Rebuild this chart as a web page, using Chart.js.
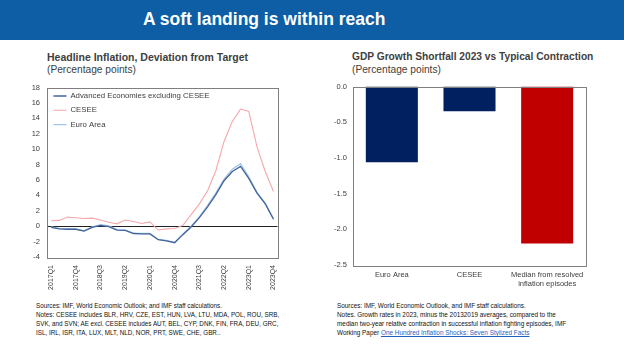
<!DOCTYPE html>
<html>
<head>
<meta charset="utf-8">
<script src="https://cdn.jsdelivr.net/npm/chart.js@4"></script>
<style>
  html, body { margin:0; padding:0; width:624px; height:351px; background:#fff; overflow:hidden; font-family:'Liberation Sans', Arial, sans-serif; }
  #banner { position:absolute; left:0; top:0; width:624px; height:40px; background:#0D5EA4; }
  #banner span { position:absolute; left:143px; top:9px; color:#fff; font-weight:bold; font-size:17.5px; white-space:nowrap; }
  .ttl { position:absolute; color:#404040; font-size:10.5px; font-weight:bold; white-space:nowrap; }
  .sub { position:absolute; color:#404040; font-size:10.2px; white-space:nowrap; }
  .note { position:absolute; color:#111; font-family:'Liberation Sans Narrow','Arial Narrow','Liberation Sans',Arial,sans-serif; line-height:9px; white-space:nowrap; }
  .note a { color:#1f5fbf; text-decoration:underline; }
  .box { position:absolute; }
</style>
</head>
<body>
<div id="banner"><span>A soft landing is within reach</span></div>

<div class="ttl" style="left:47px; top:51px;">Headline Inflation, Deviation from Target</div>
<div class="sub" style="left:47px; top:64px;">(Percentage points)</div>
<div class="ttl" style="left:352px; top:51.3px; font-size:10.2px;">GDP Growth Shortfall 2023 vs Typical Contraction</div>
<div class="sub" style="left:352px; top:64px;">(Percentage points)</div>

<div class="box" style="left:0px; top:76px; width:290px; height:222px;"><canvas id="c1"></canvas></div>
<div class="box" style="left:320px; top:76px; width:300px; height:222px;"><canvas id="c2"></canvas></div>

<div class="note" style="left:36px; top:301px; font-size:6.3px;">Sources: IMF, World Economic Outlook; and IMF staff calculations.<br>Notes: CESEE includes BLR, HRV, CZE, EST, HUN, LVA, LTU, MDA, POL, ROU, SRB,<br>SVK, and SVN; AE excl. CESEE includes AUT, BEL, CYP, DNK, FIN, FRA, DEU, GRC,<br>ISL, IRL, ISR, ITA, LUX, MLT, NLD, NOR, PRT, SWE, CHE, GBR..</div>
<div class="note" style="left:337px; top:301px; font-size:6.4px;">Sources: IMF, World Economic Outlook, and IMF staff calculations.<br>Notes. Growth rates in 2023, minus the 20132019 averages, compared to the<br>median two-year relative contraction in successful inflation fighting episodes, IMF<br>Working Paper <a>One Hundred Inflation Shocks: Seven Stylized Facts</a></div>

<script>
// ---- Data: left chart ----
const quarters = [
  '2017Q1','2017Q2','2017Q3','2017Q4','2018Q1','2018Q2','2018Q3','2018Q4',
  '2019Q1','2019Q2','2019Q3','2019Q4','2020Q1','2020Q2','2020Q3','2020Q4',
  '2021Q1','2021Q2','2021Q3','2021Q4','2022Q1','2022Q2','2022Q3','2022Q4',
  '2023Q1','2023Q2','2023Q3','2023Q4'
];
const advancedExCESEE = [-0.15,-0.35,-0.4,-0.4,-0.65,-0.15,0.1,-0.05,-0.5,-0.55,-0.95,-1.0,-1.0,-1.75,-1.9,-2.15,-1.1,-0.1,1.1,2.5,4.1,5.9,7.1,7.75,6.2,4.3,2.9,0.9];
const cesee = [0.7,0.75,1.2,1.1,1.0,1.05,0.8,0.5,0.3,0.8,0.6,0.35,0.55,-0.5,-0.35,-0.3,0.1,1.5,2.9,4.6,7.2,11.0,13.6,15.2,14.9,10.3,7.1,4.5];
const euroArea = [-0.1,-0.3,-0.35,-0.35,-0.6,-0.1,0.2,0.05,-0.45,-0.5,-0.9,-0.95,-0.95,-1.7,-1.85,-2.1,-1.0,0.0,1.2,2.7,4.3,6.1,7.4,8.1,6.4,4.4,3.0,1.0];
const seriesNames = ['Advanced Economies excluding CESEE','CESEE','Euro Area'];

// ---- Data: right chart ----
const gdpCategories = ['Euro Area','CESEE',['Median from resolved','inflation episodes']];
const gdpShortfall = [-1.06,-0.345,-2.2];

const FONT = "'Liberation Sans', Arial, sans-serif";
Chart.defaults.font.family = FONT;
Chart.defaults.color = '#404040';
Chart.defaults.animation = false;

const frame = {
  id: 'frame',
  afterDraw(chart) {
    const a = chart.chartArea, ctx = chart.ctx;
    ctx.save();
    ctx.strokeStyle = '#7f7f7f';
    ctx.lineWidth = 1;
    ctx.strokeRect(Math.round(a.left)+0.5, Math.round(a.top)+0.5, Math.round(a.right-a.left), Math.round(a.bottom-a.top));
    ctx.restore();
  }
};

new Chart(document.getElementById('c1'), {
  type: 'line',
  data: {
    labels: quarters,
    datasets: [
      { label: seriesNames[0], data: advancedExCESEE, borderColor: '#44659B', borderWidth: 1.3, pointRadius: 0, pointStyle: 'line', tension: 0 },
      { label: seriesNames[1], data: cesee, borderColor: '#F4A7AB', borderWidth: 1.1, pointRadius: 0, pointStyle: 'line', tension: 0 },
      { label: seriesNames[2], data: euroArea, borderColor: '#A3C4E6', borderWidth: 1.3, pointRadius: 0, pointStyle: 'line', tension: 0 }
    ]
  },
  options: {
    responsive: true, maintainAspectRatio: false,
    layout: { padding: { top: 8, right: 7, left: 0, bottom: 0 } },
    plugins: {
      legend: {
        position: 'chartArea', align: 'start',
        title: { display: true, text: ' ', padding: 0, font: { size: 8 } },
        labels: { usePointStyle: true, pointStyleWidth: 13, boxHeight: 7, font: { size: 7.8 }, color: '#404040', padding: 6.5 }
      },
      tooltip: { enabled: false }
    },
    scales: {
      x: {
        offset: true,
        grid: { display: false, drawTicks: false },
        border: { display: false },
        afterFit(s) { s.height = 41; },
        ticks: {
          autoSkip: false, maxRotation: 90, minRotation: 90, padding: 8,
          font: { size: 7 }, color: '#404040',
          callback(v, i) { return i % 3 === 0 ? quarters[i] : ''; }
        }
      },
      y: {
        min: -4, max: 18,
        afterFit(s) { s.width = 47; },
        border: { display: false },
        grid: { drawTicks: false, color: (c) => c.tick && c.tick.value === 0 ? '#222' : 'rgba(0,0,0,0)', lineWidth: 1 },
        ticks: { stepSize: 2, padding: 7, font: { size: 7.5 }, color: '#404040' }
      }
    }
  },
  plugins: [frame]
});

new Chart(document.getElementById('c2'), {
  type: 'bar',
  data: {
    labels: gdpCategories,
    datasets: [{
      data: gdpShortfall,
      backgroundColor: ['#002060','#002060','#C00000'],
      barPercentage: 0.67, categoryPercentage: 1
    }]
  },
  options: {
    responsive: true, maintainAspectRatio: false,
    layout: { padding: { top: 8, right: 34, left: 0, bottom: 0 } },
    plugins: { legend: { display: false }, tooltip: { enabled: false } },
    scales: {
      x: {
        grid: { display: false, drawTicks: false },
        border: { display: false },
        afterFit(s) { s.height = 33; },
        ticks: { autoSkip: false, maxRotation: 0, minRotation: 0, padding: 5, font: { size: 7.5 }, color: '#404040' }
      },
      y: {
        min: -2.5, max: 0,
        afterFit(s) { s.width = 33; },
        border: { display: false },
        grid: { display: false, drawTicks: false },
        ticks: { stepSize: 0.5, padding: 6, font: { size: 7.5 }, color: '#404040', callback: (v) => v.toFixed(1) }
      }
    }
  },
  plugins: [frame]
});
</script>
</body>
</html>
